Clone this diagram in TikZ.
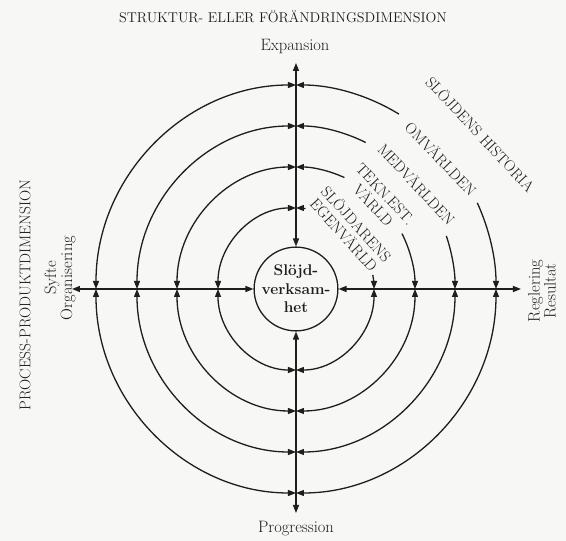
\documentclass[tikz,border=0pt]{standalone}
\usetikzlibrary{arrows.meta}
\definecolor{ink}{HTML}{1E1E1E}
\definecolor{paper}{HTML}{F7F7F5}
\newcommand\capsfont{\fontsize{15.5}{16.5}\selectfont}
\newcommand\labfont{\fontsize{16.5}{16}\selectfont}
\tikzset{
  tri/.tip={Triangle[length=8pt,width=6pt]},
  axisline/.style={draw=ink, line width=1.4pt, {tri}-{tri}},
  ringline/.style={draw=ink, line width=1.3pt},
  ringlab/.style={font=\capsfont, text=ink, align=center, inner sep=0pt},
  sidelab/.style={font=\labfont, text=ink, align=center, inner sep=0pt},
}
\begin{document}
\begin{tikzpicture}[x=1pt,y=1pt]
  % --- page, centre of the rings at the origin ---
  \fill[paper] (-296,-252) rectangle (270,289);
  \useasboundingbox (-296,-252) rectangle (270,289);

  % --- rings: x radius / y radius / gap in the upper right quadrant ---
  \foreach \xr/\yr/\ga/\gb in {78/81/10/83, 119/122/27/66, 159/163/19/64, 200/204/25/59} {
    \draw[ringline, {tri}-{tri}] (0,\yr) arc[start angle=90, end angle=180, x radius=\xr, y radius=\yr];
    \draw[ringline, {tri}-{tri}] (-\xr,0) arc[start angle=180, end angle=270, x radius=\xr, y radius=\yr];
    \draw[ringline, {tri}-{tri}] (0,-\yr) arc[start angle=270, end angle=360, x radius=\xr, y radius=\yr];
    \draw[ringline, {tri}-] (0,\yr) arc[start angle=90, end angle=\gb, x radius=\xr, y radius=\yr];
    \draw[ringline, -{tri}] ({\xr*cos(\ga)},{\yr*sin(\ga)}) arc[start angle=\ga, end angle=0, x radius=\xr, y radius=\yr];
  }

  % --- core and the two dimensions ---
  \node[ringline, circle, minimum size=83pt, inner sep=0pt, align=center,
        font=\fontsize{15.5}{18.5}\selectfont\bfseries, text=ink] (core) at (0,0)
    {Slöjd-\\verksam-\\het};

  \coordinate (top) at (0,226);
  \coordinate (bot) at (0,-224);
  \coordinate (lft) at (-224,0);
  \coordinate (rgt) at (225,0);

  \draw[axisline] (core.north) -- (top);
  \draw[axisline] (core.south) -- (bot);
  \draw[axisline] (core.west) -- (lft);
  \draw[axisline] (core.east) -- (rgt);

  % --- ring labels, written across the gaps ---
  \node[ringlab, rotate=-48] (egen) at (47.7:81) {SLÖJDARENS\\EGENVÄRLD};
  \node[ringlab, rotate=-47] (tekn) at (47:122) {TEKN.EST.\\VÄRLD};
  \node[ringlab, rotate=-47] (med) at (41:160) {MEDVÄRLDEN};
  \node[ringlab, rotate=-46] (omv) at (42:195) {OMVÄRLDEN};
  \node[ringlab, rotate=-47] (hist) at (40:241) {SLÖJDENS HISTORIA};

  % --- axis labels ---
  \node[ringlab, font=\fontsize{14.2}{16}\selectfont] (title) at (-13,272) {STRUKTUR- ELLER FÖRÄNDRINGSDIMENSION};
  \node[sidelab] (expansion) at (-1,243) {Expansion};
  \node[sidelab] (progression) at (0,-240) {Progression};
  \node[ringlab, rotate=90] (ppdim) at (-271,-6) {PROCESS-PRODUKTDIMENSION};
  \node[sidelab, rotate=90] (lftlab) at (-236,11) {Syfte\\Organisering};
  \node[sidelab, rotate=90] (rgtlab) at (246,-2) {Reglering\\Resultat};

\end{tikzpicture}
\end{document}
